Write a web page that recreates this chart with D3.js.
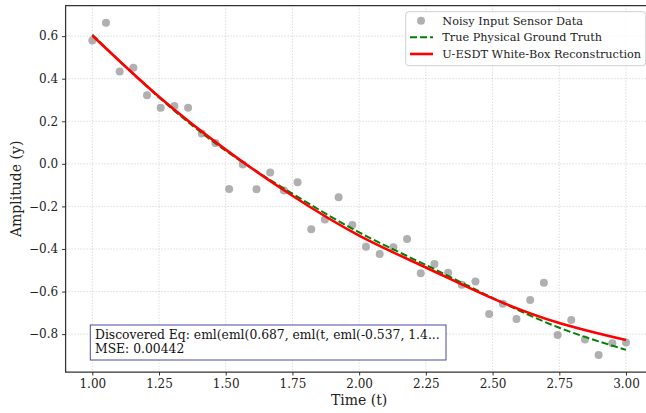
<!DOCTYPE html>
<html>
<head>
<meta charset="utf-8">
<script src="https://cdn.jsdelivr.net/npm/d3@7"></script>
<style>
  body { margin: 0; background: #fff; }
  svg { font-family: "DejaVu Serif", serif; }
</style>
</head>
<body>
<div id="chart"></div>
<script>
// DATA
const sensorT = d3.range(40).map(i => 1 + i * 2 / 39);  // 40 evenly spaced samples
const sensorY = [
  0.580, 0.663, 0.434, 0.452, 0.322, 0.264, 0.272, 0.264, 0.142, 0.098,
  -0.118, -0.003, -0.119, -0.041, -0.125, -0.087, -0.307, -0.262, -0.157, -0.287,
  -0.390, -0.424, -0.392, -0.353, -0.514, -0.471, -0.512, -0.568, -0.553, -0.705,
  -0.657, -0.729, -0.640, -0.559, -0.804, -0.734, -0.825, -0.898, -0.843, -0.839
];
const curveT = [1.0, 1.25, 1.5, 1.75, 2.0, 2.25, 2.5, 2.75, 3.0];
const truthY = [0.607, 0.312, 0.062, -0.140, -0.322, -0.475, -0.630, -0.770, -0.874];
const reconY = [0.603, 0.315, 0.067, -0.150, -0.337, -0.487, -0.632, -0.748, -0.828];
const xTicks = [1.0, 1.25, 1.5, 1.75, 2.0, 2.25, 2.5, 2.75, 3.0];
const yTicks = [-0.8, -0.6, -0.4, -0.2, 0.0, 0.2, 0.4, 0.6];
const legendLabels = ['Noisy Input Sensor Data', 'True Physical Ground Truth', 'U-ESDT White-Box Reconstruction'];
const boxLines = ['Discovered Eq: eml(eml(0.687, eml(t, eml(-0.537, 1.4...', 'MSE: 0.00442'];

// GLOBALS
const width = 646;
const height = 413;
const plot = { left: 65.6, right: 652.7, top: 5.7, bottom: 372 };

const svg = d3.select('#chart').append('svg')
  .attr('width', width)
  .attr('height', height);

const x = d3.scaleLinear().domain([0.9, 3.1]).range([plot.left, plot.right]);
const y = d3.scaleLinear().domain([-0.978, 0.743]).range([plot.bottom, plot.top]);

const minus = s => s.replace('-', '\u2212');

// fit a text element to a target width by adjusting font size
function fitWidth(sel, target) {
  const w = d3.max(sel.nodes(), n => n.getComputedTextLength());
  const fs = parseFloat(sel.attr('font-size'));
  sel.attr('font-size', fs * target / w);
}

// GRID
svg.append('g').selectAll('line').data(xTicks).join('line')
  .attr('x1', d => x(d)).attr('x2', d => x(d))
  .attr('y1', plot.top).attr('y2', plot.bottom)
  .attr('stroke', '#b0b0b0').attr('stroke-opacity', 0.8)
  .attr('stroke-width', 0.8).attr('stroke-dasharray', '1,2');
svg.append('g').selectAll('line').data(yTicks).join('line')
  .attr('x1', plot.left).attr('x2', plot.right)
  .attr('y1', d => y(d)).attr('y2', d => y(d))
  .attr('stroke', '#b0b0b0').attr('stroke-opacity', 0.8)
  .attr('stroke-width', 0.8).attr('stroke-dasharray', '1,2');

// AXES
const xAxis = svg.append('g')
  .attr('transform', `translate(0,${plot.bottom})`)
  .call(d3.axisBottom(x).tickValues(xTicks).tickFormat(d3.format('.2f')).tickSizeOuter(0).tickSize(3.5).tickPadding(4));
const yAxis = svg.append('g')
  .attr('transform', `translate(${plot.left},0)`)
  .call(d3.axisLeft(y).tickValues(yTicks).tickFormat(d => minus(d3.format('.1f')(d))).tickSizeOuter(0).tickSize(3.5).tickPadding(4));
[xAxis, yAxis].forEach(a => {
  a.select('.domain').remove();
  a.selectAll('text').attr('font-family', '"DejaVu Serif", serif').attr('font-size', 12).attr('fill', '#222');
  a.selectAll('.tick line').attr('stroke', '#333');
});

// SPINES
svg.append('path')
  .attr('d', `M${plot.right},${plot.top}H${plot.left}V${plot.bottom}H${plot.right}`)
  .attr('fill', 'none').attr('stroke', '#333').attr('stroke-width', 1.25);

// SCATTER
svg.append('g').selectAll('circle').data(sensorT).join('circle')
  .attr('cx', d => x(d))
  .attr('cy', (d, i) => y(sensorY[i]))
  .attr('r', 4)
  .attr('fill', 'gray')
  .attr('fill-opacity', 0.62);

// LINES
const line = d3.line().x(d => x(d[0])).y(d => y(d[1])).curve(d3.curveNatural);
svg.append('path')
  .datum(curveT.map((t, i) => [t, truthY[i]]))
  .attr('d', line)
  .attr('fill', 'none').attr('stroke', 'green').attr('stroke-width', 2)
  .attr('stroke-dasharray', '7,3');
svg.append('path')
  .datum(curveT.map((t, i) => [t, reconY[i]]))
  .attr('d', line)
  .attr('fill', 'none').attr('stroke', 'red').attr('stroke-width', 2.6);

// AXIS LABELS
svg.append('text')
  .attr('x', (plot.left + plot.right) / 2).attr('y', 405)
  .attr('text-anchor', 'middle').attr('font-size', 14).attr('fill', '#222')
  .text('Time (t)');
svg.append('text')
  .attr('transform', `translate(21,${(plot.top + plot.bottom) / 2}) rotate(-90)`)
  .attr('text-anchor', 'middle').attr('font-size', 14).attr('fill', '#222')
  .text('Amplitude (y)');

// LEGEND
const legend = svg.append('g');
legend.append('rect')
  .attr('x', 405.7).attr('y', 11.7).attr('width', 240).attr('height', 54)
  .attr('rx', 3)
  .attr('fill', 'white').attr('fill-opacity', 0.8)
  .attr('stroke', '#d0d0d0');
const rowY = [20.7, 37.3, 54];
legend.append('circle').attr('cx', 421).attr('cy', rowY[0]).attr('r', 4)
  .attr('fill', 'gray').attr('fill-opacity', 0.62);
legend.append('line').attr('x1', 410).attr('x2', 433).attr('y1', rowY[1]).attr('y2', rowY[1])
  .attr('stroke', 'green').attr('stroke-width', 2).attr('stroke-dasharray', '7,3');
legend.append('line').attr('x1', 410).attr('x2', 433).attr('y1', rowY[2]).attr('y2', rowY[2])
  .attr('stroke', 'red').attr('stroke-width', 2.6);
const legendText = legend.selectAll('text.lab').data(legendLabels).join('text')
  .attr('class', 'lab')
  .attr('x', 442.3).attr('y', (d, i) => rowY[i]).attr('dy', '0.35em')
  .attr('font-size', 12).attr('fill', '#222')
  .text(d => d);
fitWidth(legendText, 199);

// TEXT BOX
const box = svg.append('g');
const boxRect = box.append('rect');
const boxText = box.selectAll('text').data(boxLines).join('text')
  .attr('x', 95).attr('y', (d, i) => 338.5 + i * 14)
  .attr('font-size', 12).attr('fill', '#111')
  .text(d => d);
fitWidth(boxText, 345);
boxRect
  .attr('x', 90.3).attr('y', 325)
  .attr('width', 446 - 90.3).attr('height', 35)
  .attr('fill', 'white').attr('stroke', '#4b4ba0').attr('stroke-width', 1);
</script>
</body>
</html>
